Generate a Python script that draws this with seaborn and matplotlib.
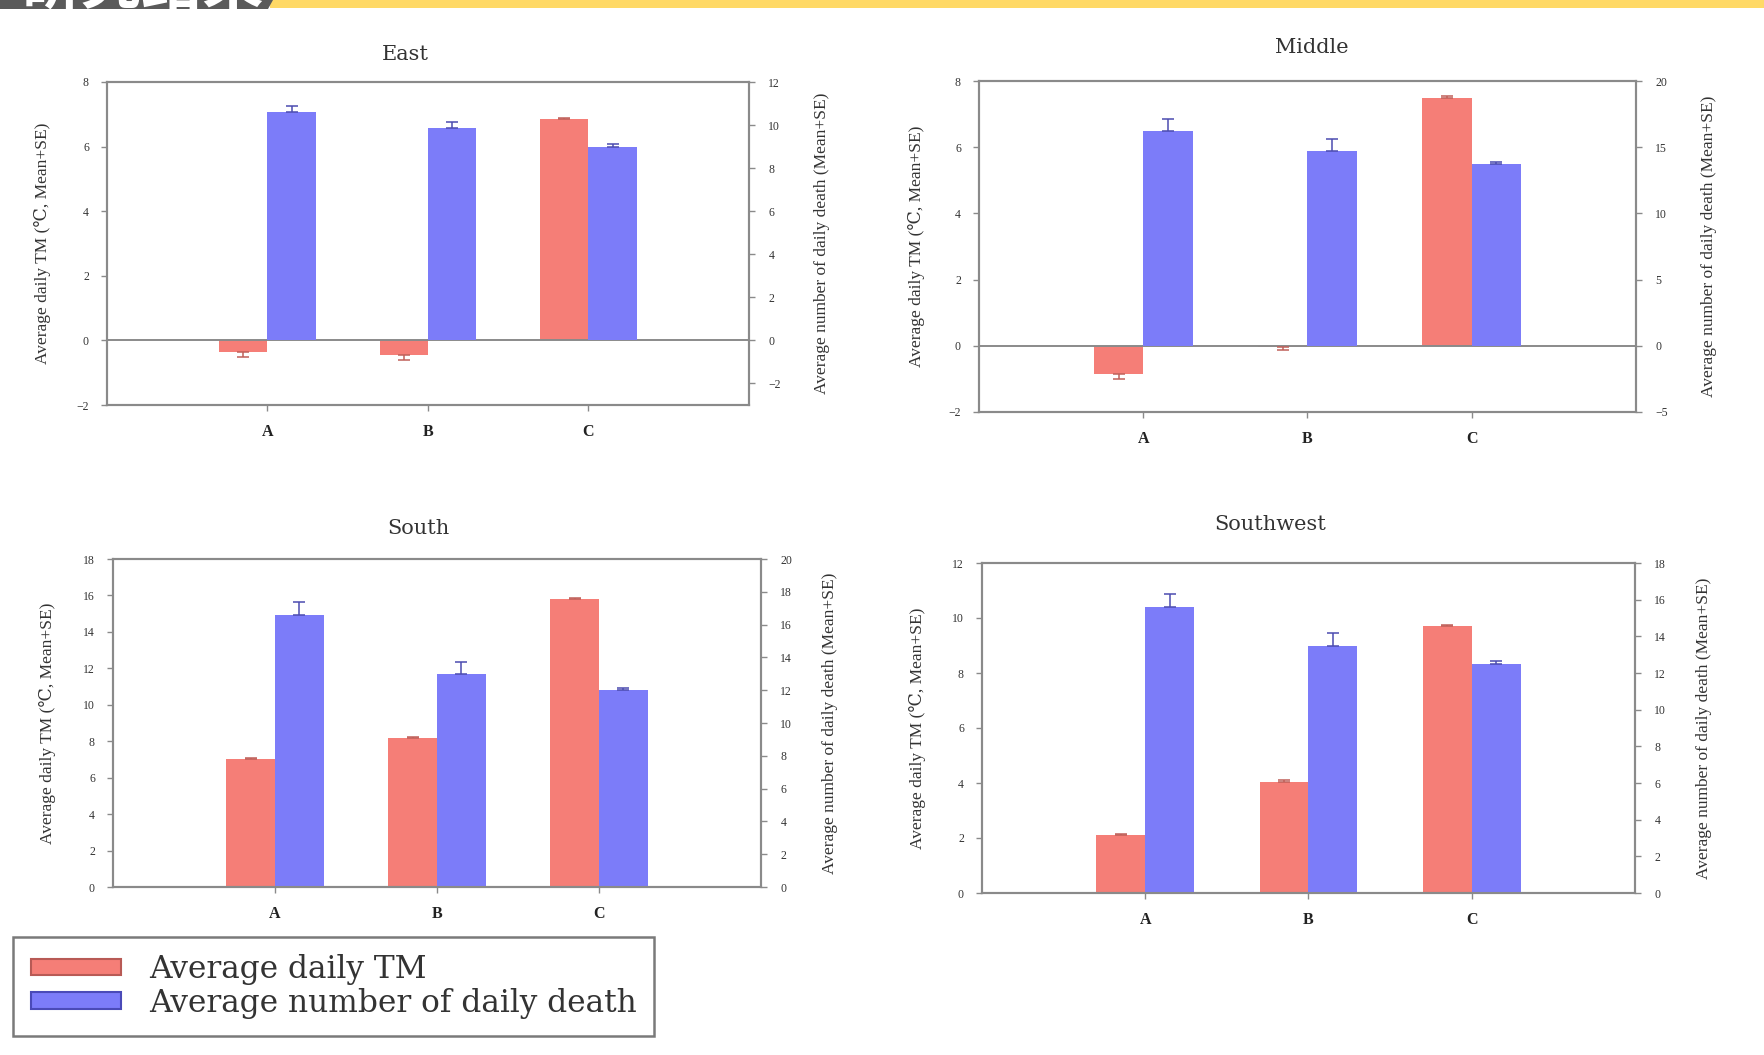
import numpy as np
import pandas as pd
import matplotlib
matplotlib.use("Agg")
import matplotlib.pyplot as plt
from matplotlib.patches import Patch, Polygon, Rectangle
import seaborn as sns

# ---- data -------------------------------------------------------------
categories = ["A", "B", "C"]
regions = ["East", "Middle", "South", "Southwest"]

east_tm = [-0.35, -0.45, 6.85]
east_tm_se = [0.15, 0.15, 0.05]
east_death = [10.6, 9.85, 9.0]
east_death_se = [0.3, 0.3, 0.1]

middle_tm = [-0.85, -0.05, 7.5]
middle_tm_se = [0.15, 0.07, 0.05]
middle_death = [16.2, 14.7, 13.7]
middle_death_se = [0.9, 0.9, 0.2]

south_tm = [7.05, 8.2, 15.8]
south_tm_se = [0.05, 0.05, 0.05]
south_death = [16.6, 13.0, 12.0]
south_death_se = [0.75, 0.75, 0.15]

southwest_tm = [2.1, 4.05, 9.7]
southwest_tm_se = [0.05, 0.05, 0.05]
southwest_death = [15.6, 13.5, 12.5]
southwest_death_se = [0.7, 0.7, 0.15]

tm_series = [east_tm, middle_tm, south_tm, southwest_tm]
tm_se_series = [east_tm_se, middle_tm_se, south_tm_se, southwest_tm_se]
death_series = [east_death, middle_death, south_death, southwest_death]
death_se_series = [east_death_se, middle_death_se, south_death_se, southwest_death_se]

tm_limits = [(-2, 8, 2), (-2, 8, 2), (0, 18, 2), (0, 12, 2)]
death_limits = [(-3, 12, 2, -2), (-5, 20, 5, -5), (0, 20, 2, 0), (0, 18, 2, 0)]

TM_LABEL = "Average daily TM"
DEATH_LABEL = "Average number of daily death"
left_ylabel = "Average daily TM (\u2103, Mean+SE)"
right_ylabel = "Average number of daily death (Mean+SE)"

# ---- style ------------------------------------------------------------
sns.set_theme(style="white")
plt.rcParams["font.family"] = ["Liberation Serif", "DejaVu Serif"]
WIDE_SERIF = ["DejaVu Serif", "Liberation Serif"]

RED = "#F57E77"
BLUE = "#7C7CF9"
RED_ERR = "#C0605A"
BLUE_ERR = "#4C4CB0"
FRAME = "#8a8a8a"

W, H = 1765, 1055
fig = plt.figure(figsize=(W / 100, H / 100), dpi=100)
fig.patch.set_facecolor("white")

# axes boxes in pixels: left, right, top, bottom
boxes = [(107, 749, 82, 405), (979, 1636, 81, 412),
         (113, 761, 559, 887), (982, 1635, 563, 893)]
title_x = [0.465, 0.506, 0.472, 0.441]
title_pad = [16, 20, 18, 24]
left_label_gap = [64, 62, 65, 64]
right_label_gap = [73, 73, 69, 69]

x_idx = np.arange(len(categories))
bar_w = 0.6

for i, region in enumerate(regions):
    l, r, t, b = boxes[i]
    ax = fig.add_axes([l / W, 1 - b / H, (r - l) / W, (b - t) / H])
    ax2 = ax.twinx()

    df = pd.DataFrame({
        "category": categories * 2,
        "series": [TM_LABEL] * 3 + [DEATH_LABEL] * 3,
        "tm": tm_series[i] + [np.nan] * 3,
        "death": [np.nan] * 3 + death_series[i],
    })
    pal = {TM_LABEL: RED, DEATH_LABEL: BLUE}
    sns.barplot(data=df, x="category", y="tm", hue="series",
                hue_order=[TM_LABEL, DEATH_LABEL], order=categories,
                palette=pal, saturation=1, width=bar_w, dodge=True,
                errorbar=None, linewidth=0, legend=False, ax=ax)
    sns.barplot(data=df, x="category", y="death", hue="series",
                hue_order=[TM_LABEL, DEATH_LABEL], order=categories,
                palette=pal, saturation=1, width=bar_w, dodge=True,
                errorbar=None, linewidth=0, legend=False, ax=ax2)

    # one-sided (Mean+SE) error bars
    tm = np.array(tm_series[i])
    tse = np.array(tm_se_series[i])
    lower = np.where(tm < 0, tse, 0)
    upper = np.where(tm >= 0, tse, 0)
    ax.errorbar(x_idx - bar_w / 4, tm, yerr=[lower, upper], fmt="none",
                ecolor=RED_ERR, elinewidth=1.1, capsize=4, capthick=1.1, zorder=3)
    dm = np.array(death_series[i])
    dse = np.array(death_se_series[i])
    ax2.errorbar(x_idx + bar_w / 4, dm, yerr=[np.zeros_like(dse), dse], fmt="none",
                 ecolor=BLUE_ERR, elinewidth=1.1, capsize=4, capthick=1.1, zorder=3)

    # zero line
    ax.axhline(0, color=FRAME, lw=1.4, zorder=1)

    lo, hi, step = tm_limits[i]
    ax.set_ylim(lo, hi)
    ax.set_yticks(np.arange(lo, hi + 0.01, step))
    dlo, dhi, dstep, dstart = death_limits[i]
    ax2.set_ylim(dlo, dhi)
    ax2.set_yticks(np.arange(dstart, dhi + 0.01, dstep))

    for a in (ax, ax2):
        a.set_xlim(-1, 3)
        for s in a.spines.values():
            s.set_color(FRAME)
            s.set_linewidth(1.5)
        a.set_xlabel("")
    ax.set_xticks(x_idx)
    ax.set_xticklabels(categories, fontweight="bold", fontsize=11.5)
    ax.tick_params(axis="x", direction="out", length=4, width=1, color=FRAME,
                   pad=10, labelcolor="#222222", bottom=True)
    ax.tick_params(axis="y", direction="out", length=4, width=1, color=FRAME,
                   pad=9, labelsize=8.5, labelcolor="#333333", left=True)
    ax2.tick_params(axis="y", direction="out", length=4, width=1, color=FRAME,
                    pad=10, labelsize=8.5, labelcolor="#333333", right=True)

    pw = r - l
    ax.set_ylabel(left_ylabel, fontsize=12.5, color="#333333")
    ax.yaxis.label.set_va("center")
    ax.yaxis.set_label_coords(-left_label_gap[i] / pw, 0.5)
    ax2.set_ylabel(right_ylabel, fontsize=12.5, color="#333333", rotation=90)
    ax2.yaxis.label.set_va("center")
    ax2.yaxis.set_label_coords(1 + right_label_gap[i] / pw, 0.5)

    ax.set_title(region, fontsize=15, x=title_x[i], pad=title_pad[i],
                 color="#333333", family=WIDE_SERIF)

# ---- legend -----------------------------------------------------------
handles = [Patch(facecolor=RED, edgecolor="#B85A55", linewidth=1.5, label=TM_LABEL),
           Patch(facecolor=BLUE, edgecolor="#4A4AB8", linewidth=1.5, label=DEATH_LABEL)]
leg = fig.legend(handles=handles, loc="upper left",
                 bbox_to_anchor=(13.5 / W, 1 - 937 / H), borderaxespad=0,
                 prop={"family": WIDE_SERIF, "size": 22.5},
                 frameon=True, fancybox=False, framealpha=1,
                 edgecolor="#7a7a7a", handlelength=2.9, handleheight=0.45,
                 handletextpad=0.9, labelspacing=0.08, borderpad=0.55)
leg.get_frame().set_linewidth(1.8)
for txt in leg.get_texts():
    txt.set_color("#333333")

# ---- header strip -----------------------------------------------------
band = Polygon([(0, 1), (273 / W, 1), (268 / W, 1 - 9 / H), (0, 1 - 9 / H)],
               closed=True, transform=fig.transFigure, facecolor="#5a5a5a",
               edgecolor="none", zorder=5)
fig.patches.append(band)
fig.patches.append(Rectangle((270 / W, 1 - 8 / H), 1 - 270 / W, 8 / H,
                             transform=fig.transFigure, facecolor="#FFD966",
                             edgecolor="none", zorder=4))
head = fig.text(20 / W, 1 - 5 / H, "研究结果", fontsize=44, color="white",
                fontweight="bold", family=["Noto Sans CJK SC", "DejaVu Sans"],
                ha="left", va="baseline", zorder=6)
head.set_clip_path(band)

fig.savefig("out.png", dpi=100, facecolor="white")
